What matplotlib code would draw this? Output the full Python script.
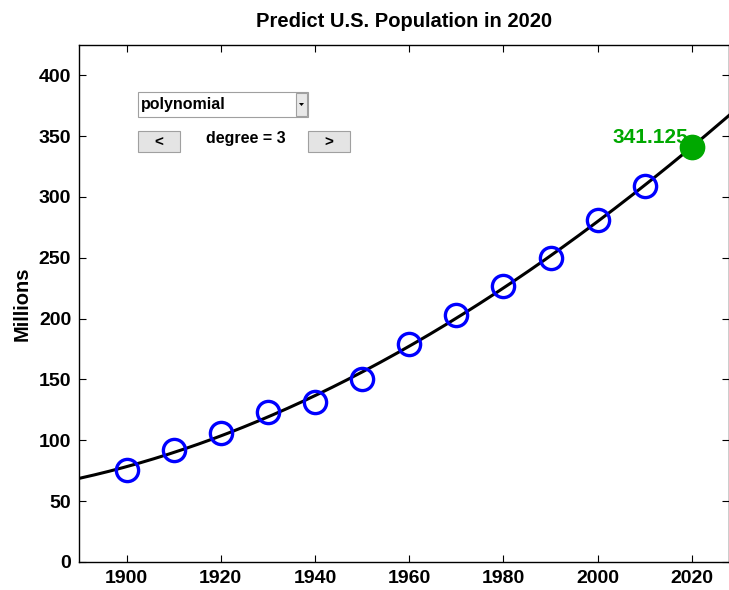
import numpy as np
import matplotlib.pyplot as plt
from matplotlib.patches import Rectangle, Polygon

plt.rcParams['font.family'] = ['Liberation Sans', 'DejaVu Sans']
plt.rcParams['font.weight'] = 'bold'

# Census data (millions)
years = [1900, 1910, 1920, 1930, 1940, 1950, 1960, 1970, 1980, 1990, 2000, 2010]
population = [75.995, 91.972, 105.711, 123.203, 131.669, 150.697,
              179.323, 203.212, 226.505, 249.633, 281.422, 308.746]
target_year = 2020
degree = 3

# Cubic fit, centred and scaled like censusgui
t = np.array(years, dtype=float)
p = np.array(population)
s = (t - 1950) / 50
coef = np.polyfit(s, p, degree)
x_fit = np.linspace(1890, 2030, 400)
y_fit = np.polyval(coef, (x_fit - 1950) / 50)
pred = np.polyval(coef, (target_year - 1950) / 50)

fig = plt.figure(figsize=(7.29, 5.90), dpi=100)
ax = fig.add_axes([0.109, 0.0475, 0.8905, 0.8765])

ax.plot(x_fit, y_fit, color='black', lw=2.2, zorder=2)
ax.plot(years, population, 'o', mfc='none', mec='blue', ms=16, mew=2.4, zorder=3)
ax.plot([target_year], [pred], 'o', color='#00a800', ms=17.5, zorder=4)
ax.text(target_year - 0.8, pred + 3.5, '%.3f' % pred, color='#00a800',
        fontsize=15, fontweight='bold', ha='right', va='baseline', zorder=3.5)

ax.set_xlim(1890, 2027.8)
ax.set_ylim(0, 425)
ax.set_xticks(range(1900, 2021, 20))
ax.set_yticks(range(0, 401, 50))
ax.tick_params(direction='in', top=True, right=True, length=5, labelsize=14,
               width=0.8, pad=6)
for lbl in ax.get_xticklabels() + ax.get_yticklabels():
    lbl.set_fontweight('bold')
ax.set_title('Predict U.S. Population in 2020', fontsize=14.5, fontweight='bold', pad=13)
for sp in ax.spines.values():
    sp.set_linewidth(1.0)

# GUI widgets (drawn in pixel coords)
W, H = 729, 590


def px(x, y):
    return x / W, 1 - y / H


fig.text(*px(22, 303.5), 'Millions', fontsize=14.5, fontweight='bold',
         rotation=90, ha='center', va='center')


def box(x0, y0, x1, y1, fc):
    fx, fy = px(x0, y1)
    fig.patches.append(Rectangle((fx, fy), (x1 - x0) / W, (y1 - y0) / H,
                                 transform=fig.transFigure, fc=fc, ec='#a0a0a0', lw=0.8))


box(138, 92, 308, 117, 'white')
box(296, 93, 307, 116, '#e8e8e8')
fig.patches.append(Polygon([px(299, 103), px(304, 103), px(301.5, 106)], closed=True,
                           transform=fig.transFigure, fc='black', ec='none'))
fig.text(*px(141, 105), 'polynomial', fontsize=11.5, fontweight='bold', va='center')

box(138, 131, 180, 152, '#e4e4e4')
box(308, 131, 350, 152, '#e4e4e4')
fig.text(*px(159, 143), '<', fontsize=11, fontweight='bold', ha='center', va='center')
fig.text(*px(329, 143), '>', fontsize=11, fontweight='bold', ha='center', va='center')
fig.text(*px(246, 139), 'degree = %d' % degree, fontsize=11.5, fontweight='bold',
         ha='center', va='center')

plt.savefig('out.png', dpi=100)
